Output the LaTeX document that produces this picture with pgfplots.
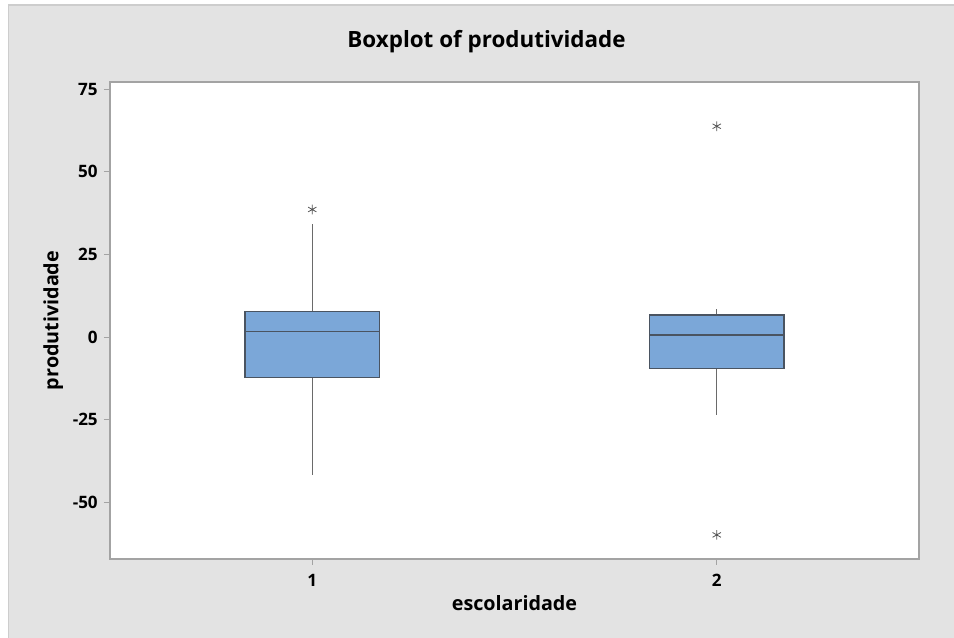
\documentclass[border=0pt]{standalone}
\usepackage{fontspec}
\setmainfont{Open Sans}
\usepackage{pgfplots}
\pgfplotsset{compat=1.18}
\usepgfplotslibrary{statistics}
\definecolor{panel}{HTML}{E3E3E3}
\definecolor{panelborder}{HTML}{CDCDCD}
\definecolor{boxfill}{HTML}{7BA7D8}
\definecolor{boxedge}{HTML}{4A5461}
\definecolor{whisk}{HTML}{6A6A6A}
\definecolor{axgray}{HTML}{A3A3A3}
\definecolor{outl}{HTML}{555555}
\begin{document}
\begin{tikzpicture}[x=0.75pt,y=0.75pt]
\useasboundingbox (0,0) rectangle (954,638);
\fill[white] (0,0) rectangle (954,638);
\filldraw[fill=panel, draw=panelborder, line width=1.2pt] (8.5,-5) rectangle (960,633);
\begin{axis}[
  at={(82.5pt,59.25pt)}, anchor=south west,
  scale only axis, width=606.75pt, height=357.75pt,
  xmin=0.5, xmax=2.5, ymin=-67.2, ymax=77.2,
  axis background/.style={fill=white},
  axis line style={draw=axgray, line width=0.9pt},
  xtick={1,2}, xticklabels={1,2},
  ytick={-50,-25,0,25,50,75}, yticklabels={-50,-25,0,25,50,75},
  xtick pos=bottom, ytick pos=left,
  tick align=outside, major tick length=4.5pt,
  tick style={draw=axgray, line width=0.75pt},
  ticklabel style={font=\bfseries\fontsize{12.8}{15}\selectfont, text=black},
  xticklabel style={anchor=base, inner sep=0pt, yshift=-16.3pt},
  yticklabel style={anchor=east, inner sep=0pt, xshift=-4.5pt},
  title={Boxplot of produtividade},
  title style={at={(axis description cs:0.4654,1.0545)}, anchor=base, inner sep=0pt, font=\bfseries\fontsize{16.8}{19}\selectfont},
  xlabel={escolaridade},
  xlabel style={at={(axis description cs:0.5,-0.1084)}, anchor=base, inner sep=0pt, font=\bfseries\fontsize{14.8}{17}\selectfont},
  ylabel={produtividade},
  ylabel style={at={(axis description cs:-0.0637,0.5)}, anchor=base, inner sep=0pt, font=\bfseries\fontsize{14.8}{17}\selectfont},
  boxplot/draw direction=y,
  boxplot/box extend=0.332,
  boxplot/whisker extend=0,
  boxplot/every box/.style={draw=boxedge, fill=boxfill, line width=1.1pt},
  boxplot/every median/.style={draw=boxedge, line width=1.1pt},
  boxplot/every whisker/.style={draw=whisk, line width=0.9pt},
]
\addplot[boxplot prepared={median=1.7, upper quartile=7.8, lower quartile=-12.3,
  upper whisker=34.1, lower whisker=-41.7, draw position=1},
  mark=asterisk, mark size=3.6pt, mark options={draw=outl, line width=0.6pt}]
  coordinates {(1,38.6)};
\addplot[boxplot prepared={median=0.6, upper quartile=6.6, lower quartile=-9.5,
  upper whisker=8.5, lower whisker=-23.5, draw position=2},
  mark=asterisk, mark size=3.6pt, mark options={draw=outl, line width=0.6pt}]
  coordinates {(2,63.8) (2,-59.9)};
\end{axis}
\end{tikzpicture}
\end{document}
